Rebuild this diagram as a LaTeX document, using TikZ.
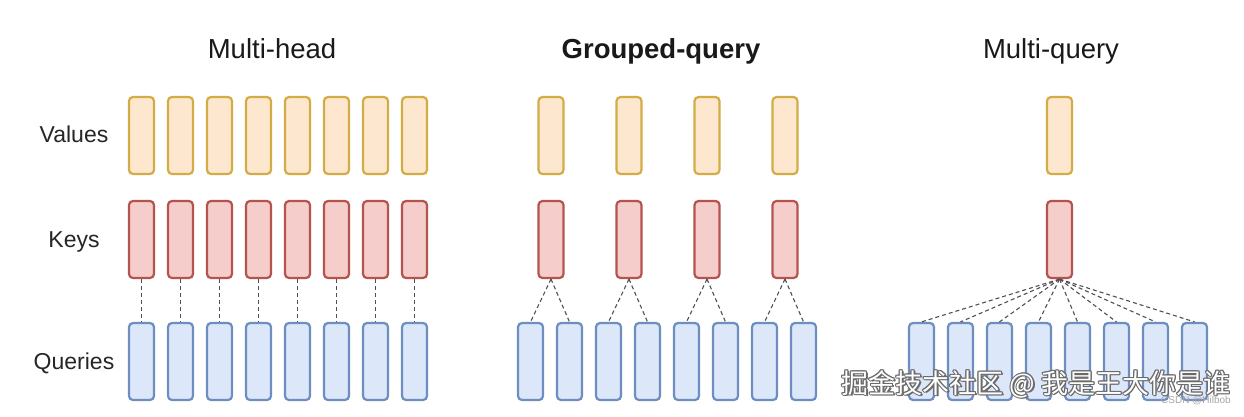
\documentclass[tikz,border=0pt]{standalone}
\usepackage{fontspec}
\setmainfont{Liberation Sans}
\newfontfamily\cjk{Noto Sans CJK SC}
\usetikzlibrary{calc}
\definecolor{vfill}{HTML}{FDE8CF}
\definecolor{vdraw}{HTML}{D4AC45}
\definecolor{kfill}{HTML}{F5CDCB}
\definecolor{kdraw}{HTML}{B5544F}
\definecolor{qfill}{HTML}{DCE7FA}
\definecolor{qdraw}{HTML}{6E8EC0}
\definecolor{linkgray}{HTML}{505050}
\definecolor{wmline}{HTML}{6A6A6A}
\tikzset{
  headbox/.style={rounded corners=4pt, line width=2.2pt, minimum width=25pt, minimum height=77pt, inner sep=0pt},
  valbox/.style={headbox, fill=vfill, draw=vdraw},
  keybox/.style={headbox, fill=kfill, draw=kdraw},
  qbox/.style={headbox, fill=qfill, draw=qdraw},
  link/.style={draw=linkgray, line width=1.1pt, dash pattern=on 4pt off 3pt},
  title/.style={font=\fontsize{27.5}{32}\selectfont, text=black!90, inner sep=0pt, anchor=base},
  rowlabel/.style={font=\fontsize{23}{26}\selectfont, text=black!85, inner sep=0pt, anchor=base},
  wm/.style={font=\cjk\fontsize{27}{30}\selectfont, inner sep=0pt},
}
\begin{document}
\begin{tikzpicture}[x=1pt,y=-1pt]
\useasboundingbox (0,0) rectangle (1244,416);
\fill[white] (0,0) rectangle (1244,416);

% titles
\node[title] (tmh) at (272,58) {Multi-head};
\node[title, font=\fontsize{27.5}{32}\selectfont\bfseries] (tgq) at (661,58) {Grouped-query};
\node[title] (tmq) at (1051,58) {Multi-query};

% row labels
\node[rowlabel] (lv) at (74,142) {Values};
\node[rowlabel] (lk) at (74,247) {Keys};
\node[rowlabel] (lq) at (74,369) {Queries};

% multi-head
\foreach \i in {0,...,7} {
  \pgfmathsetmacro\xx{141.5+39*\i}
  \node[valbox] (mhv\i) at (\xx,135.5) {};
  \node[keybox] (mhk\i) at (\xx,239.5) {};
  \node[qbox] (mhq\i) at (\xx,361.5) {};
  \draw[link] (mhk\i.south) -- (mhq\i.north);
}

% grouped-query
\foreach \j in {0,...,3} {
  \pgfmathsetmacro\xx{551+78*\j}
  \node[valbox] (gqv\j) at (\xx,135.5) {};
  \node[keybox] (gqk\j) at (\xx,239.5) {};
}
\foreach \i in {0,...,7} {
  \pgfmathsetmacro\xx{530.5+39*\i}
  \pgfmathtruncatemacro\g{int(\i/2)}
  \node[qbox] (gqq\i) at (\xx,361.5) {};
  \draw[link] (gqk\g.south) -- (gqq\i.north);
}

% multi-query
\node[valbox] (mqv) at (1059.5,135.5) {};
\node[keybox] (mqk) at (1059.5,239.5) {};
\foreach \i in {0,...,7} {
  \pgfmathsetmacro\xx{921.5+39*\i}
  \node[qbox] (mqq\i) at (\xx,361.5) {};
  \draw[link] (mqk.south) -- (mqq\i.north);
}

% watermark
\foreach \dx/\dy [count=\k] in {-1/0,1/0,0/-1,0/1,-0.7/-0.7,0.7/0.7,-0.7/0.7,0.7/-0.7,1.4/1.4} {
  \node[wm, text=wmline] (wmo\k) at (1036+\dx,384+\dy) {掘金技术社区 @ 我是王大你是谁};
}
\node[wm, text=white] (wmt) at (1036,384) {掘金技术社区 @ 我是王大你是谁};
\node[font=\fontsize{10}{12}\selectfont, text=black!35, inner sep=0pt] (csdn) at (1196,401) {CSDN @Hilbob};
\end{tikzpicture}
\end{document}
